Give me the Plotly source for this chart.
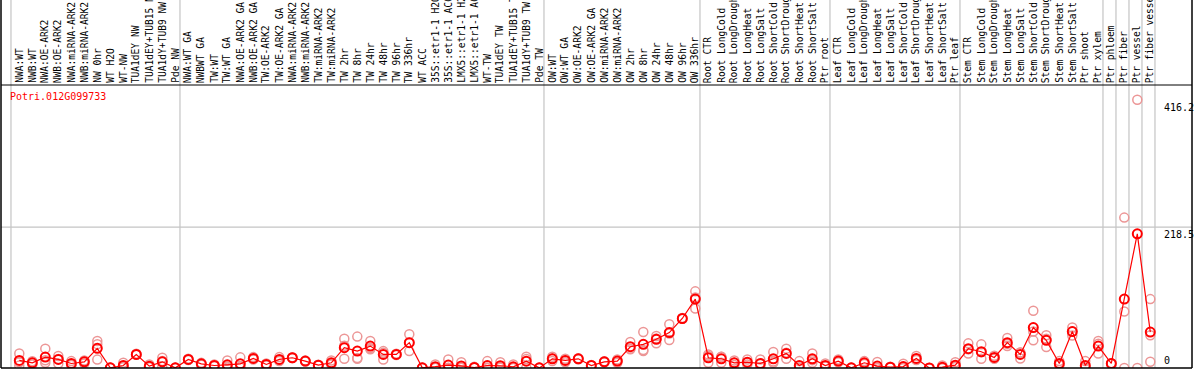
import plotly.graph_objects as go

gene = "Potri.012G099733"

categories = [
    "NWA:WT", "NWB:WT", "NWA:OE-ARK2", "NWB:OE-ARK2", "NWA:miRNA-ARK2", "NWB:miRNA-ARK2",
    "NW 0hr", "WT H2O", "WT-NW", "TUA1dEY NW", "TUA1dEY+TUB15 NW", "TUA1dY+TUB9 NW", "Pde NW",
    "NWA:WT GA", "NWBWT GA", "TW:WT", "TW:WT GA", "NWA:OE-ARK2 GA", "NWB:OE-ARK2 GA",
    "TW:OE-ARK2", "TW:OE-ARK2 GA", "NWA:miRNA-ARK2", "NWB:miRNA-ARK2", "TW:miRNA-ARK2",
    "TW:miRNA-ARK2", "TW 2hr", "TW 8hr", "TW 24hr", "TW 48hr", "TW 96hr", "TW 336hr",
    "WT ACC", "35S::etr1-1 H2O", "35S::etr1-1 ACC", "LMX5::etr1-1 H2O", "LMX5::etr1-1 ACC",
    "WT-TW", "TUA1dEY TW", "TUA1dEY+TUB15 TW", "TUA1dY+TUB9 TW", "Pde TW",
    "OW:WT", "OW:WT GA", "OW:OE-ARK2", "OW:OE-ARK2 GA", "OW:miRNA-ARK2", "OW:miRNA-ARK2",
    "OW 2hr", "OW 8hr", "OW 24hr", "OW 48hr", "OW 96hr", "OW 336hr",
    "Root CTR", "Root LongCold", "Root LongDrought", "Root LongHeat", "Root LongSalt",
    "Root ShortCold", "Root ShortDrought", "Root ShortHeat", "Root ShortSalt", "Ptr root",
    "Leaf CTR", "Leaf LongCold", "Leaf LongDrought", "Leaf LongHeat", "Leaf LongSalt",
    "Leaf ShortCold", "Leaf ShortDrought", "Leaf ShortHeat", "Leaf ShortSalt", "Ptr leaf",
    "Stem CTR", "Stem LongCold", "Stem LongDrought", "Stem LongHeat", "Stem LongSalt",
    "Stem ShortCold", "Stem ShortDrought", "Stem ShortHeat", "Stem ShortSalt", "Ptr shoot",
    "Ptr xylem", "Ptr phloem", "Ptr fiber", "Ptr vessel", "Ptr fiber vessel",
]

mean_vals = [
    11.7, 8.1, 16.9, 13.3, 7.0, 9.6, 30.5, 0.3, 3.9, 21.0, 2.8, 9.6, 0.2,
    13.3, 6.5, 3.9, 5.0, 6.5, 14.8, 5.5, 13.3, 15.9, 10.7, 4.4, 8.1, 31.5, 26.2, 34.0,
    21.0, 21.0, 39.3, 0.2, 2.0, 4.5, 3.2, 0.8, 3.7, 3.5, 1.9, 10.6, 0.2,
    14.3, 11.7, 14.3, 3.9, 9.6, 10.7, 33.0, 36.7, 44.5, 54.9, 76.8, 106.9,
    15.9, 14.3, 8.1, 9.1, 7.0, 14.3, 22.6, 3.9, 14.3, 3.9,
    10.7, 0.2, 8.1, 3.0, 1.3, 2.2, 14.8, 0.0, 1.3, 4.4,
    29.9, 25.2, 16.4, 39.3, 21.0, 62.7, 42.9, 7.0, 56.5, 3.9,
    34.0, 7.0, 106.9, 208.1, 55.7,
]

rep_a = [
    22.6, 10.5, 30.0, 18.5, 10.7, 11.7, 42.0, 0.5, 8.1, 22.0, 5.5, 16.0, 0.3,
    14.5, 8.0, 5.5, 11.7, 16.5, 16.9, 7.0, 16.9, 16.5, 11.5, 5.0, 11.7, 45.5, 48.7, 41.9,
    26.2, 22.0, 52.3, 0.3, 5.5, 13.3, 9.0, 1.8, 10.7, 9.0, 5.5, 17.5, 0.2,
    17.5, 14.3, 15.0, 4.5, 10.5, 13.3, 40.3, 55.9, 49.6, 67.9, 77.5, 118.9,
    21.0, 17.5, 11.7, 13.3, 13.3, 24.7, 30.0, 10.7, 22.6, 7.0,
    13.3, 0.2, 10.7, 9.5, 2.0, 6.5, 18.5, 0.0, 3.9, 9.0,
    38.2, 36.7, 18.9, 46.5, 24.0, 88.7, 50.7, 10.7, 62.7, 10.7,
    41.9, 7.5, 233.3, 416.2, 106.9,
]

rep_b = [
    3.9, 5.5, 8.1, 7.0, 5.5, 7.0, 37.0, 0.2, 2.5, 20.5, 1.8, 11.0, 0.2,
    13.0, 6.5, 2.8, 2.5, 2.2, 13.3, 5.5, 10.7, 15.5, 10.0, 4.0, 5.5, 34.5, 15.5, 31.0,
    23.5, 21.0, 39.4, 0.2, 0.3, 0.2, 0.3, 0.4, 0.3, 1.0, 0.2, 14.0, 0.2,
    10.7, 9.0, 13.5, 3.5, 8.8, 8.1, 29.8, 28.0, 45.7, 53.4, 76.5, 109.4,
    18.6, 17.3, 8.1, 8.5, 6.3, 10.1, 23.5, 0.6, 12.2, 2.5,
    10.0, 0.2, 7.5, 0.0, 1.0, 0.1, 13.5, 0.0, 0.1, 2.5,
    28.9, 24.6, 16.0, 37.4, 24.2, 56.5, 45.5, 5.5, 56.5, 0.8,
    37.5, 6.8, 87.7, 0.0, 50.7,
]

rep_c = [
    9.0, 8.3, 12.0, 14.0, 4.8, 10.0, 13.0, 0.2, 1.0, 20.5, 1.0, 1.8, 0.1,
    12.4, 5.0, 3.4, 0.8, 0.8, 14.2, 4.0, 12.3, 15.7, 10.6, 4.2, 7.1, 14.3, 14.4, 28.9,
    13.3, 20.0, 26.2, 0.1, 0.2, 0.1, 0.2, 0.2, 0.2, 0.5, 0.0, 0.3, 0.1,
    14.7, 11.8, 14.4, 3.7, 9.5, 10.7, 28.9, 26.2, 38.2, 43.4, 76.4, 92.4,
    8.1, 8.1, 4.5, 5.5, 1.4, 8.1, 14.3, 0.4, 8.1, 2.2,
    8.8, 0.1, 6.1, 0.0, 0.9, 0.0, 12.4, 0.0, 0.0, 1.7,
    22.6, 14.3, 14.3, 34.0, 14.8, 42.9, 32.5, 4.8, 50.3, 0.2,
    22.6, 6.7, 0.0, None, 9.6,
]

group_sizes = [13, 28, 12, 10, 10, 11, 1, 1, 1, 1]
ytick_vals = [416.2, 218.5, 0]
ytick_text = ["416.2", "218.5", "0"]
mid_gridline = 218.5

# ---------------- layout geometry ----------------
W, H = 1194, 370
ML, MR, MT, MB = 1, 2, 0, 2
PW, PH = W - ML - MR, H - MT - MB
STEP = 13.0           # pixels per category
X0_PX = 19.3          # pixel of first category
SEP_PX = 85           # pixel of the line separating labels and data
Y_TOP = 439.0         # value at top of data area

xa = -(X0_PX - ML) / STEP
xb = xa + PW / STEP
dom_top = (H - MB - SEP_PX) / PH


def px_x(p):
    return (p - ML) / PW


def px_y(p):
    return (H - MB - p) / PH


xs = list(range(len(categories)))
mono = "DejaVu Sans Mono, Liberation Mono, monospace"
pink = "rgb(236,150,150)"

fig = go.Figure()

for reps in (rep_a, rep_b, rep_c):
    fig.add_trace(go.Scatter(
        x=xs, y=reps, mode="markers",
        marker=dict(symbol="circle-open", size=9, color=pink, line=dict(width=1.5, color=pink)),
        hoverinfo="skip",
    ))

fig.add_trace(go.Scatter(
    x=xs, y=mean_vals, mode="lines+markers",
    line=dict(color="#ff0000", width=1.2),
    marker=dict(symbol="circle-open", size=9, color="#ff0000", line=dict(width=2, color="#ff0000")),
))

shapes = []
# vertical group separators
bounds = [-0.5]
for g in group_sizes:
    bounds.append(bounds[-1] + g)
for b in bounds:
    shapes.append(dict(type="line", xref="x", yref="paper", x0=b - 0.14, x1=b - 0.14, y0=0, y1=1,
                       line=dict(color="#c4c4c4", width=1.2), layer="below"))
# horizontal mid gridline
shapes.append(dict(type="line", xref="paper", yref="y", x0=0, x1=1, y0=mid_gridline, y1=mid_gridline,
                   line=dict(color="#c4c4c4", width=1.2), layer="below"))
# separator between labels and data
shapes.append(dict(type="line", xref="paper", yref="paper", x0=0, x1=1, y0=dom_top, y1=dom_top,
                   line=dict(color="black", width=1)))
# borders: left, right, bottom
shapes.append(dict(type="line", xref="paper", yref="paper", x0=0, x1=0, y0=0, y1=1,
                   line=dict(color="black", width=1.5)))
shapes.append(dict(type="line", xref="paper", yref="paper", x0=1, x1=1, y0=0, y1=1,
                   line=dict(color="black", width=1.5)))
shapes.append(dict(type="line", xref="paper", yref="paper", x0=0, x1=1, y0=0, y1=0,
                   line=dict(color="black", width=1.5)))

annotations = []
for i, name in enumerate(categories):
    annotations.append(dict(
        x=i, y=dom_top, xref="x", yref="paper", text=name, textangle=-90,
        xanchor="center", yanchor="bottom", showarrow=False,
        font=dict(family=mono, size=9.6, color="black"),
    ))

annotations.append(dict(
    x=px_x(7.5), y=px_y(96.5), xref="paper", yref="paper", text=gene,
    xanchor="left", yanchor="middle", showarrow=False,
    font=dict(family=mono, size=10, color="#ff0000"),
))

for v, t in zip(ytick_vals, ytick_text):
    annotations.append(dict(
        x=px_x(1161.5), y=v, xref="paper", yref="y", text=t,
        xanchor="left", yanchor="bottom" if v == 0 else "top", showarrow=False,
        font=dict(family=mono, size=10, color="black"),
    ))

fig.update_layout(
    width=W, height=H, autosize=False,
    margin=dict(l=ML, r=MR, t=MT, b=MB, pad=0),
    paper_bgcolor="white", plot_bgcolor="white",
    showlegend=False,
    xaxis=dict(range=[xa, xb], visible=False, showgrid=False, zeroline=False),
    yaxis=dict(range=[0, Y_TOP], domain=[0, dom_top], visible=False, showgrid=False, zeroline=False),
    shapes=shapes,
    annotations=annotations,
)

fig.write_html(
    "out.html",
    config={"displayModeBar": False},
    post_script="document.body.style.margin='0';document.body.style.padding='0';",
)
